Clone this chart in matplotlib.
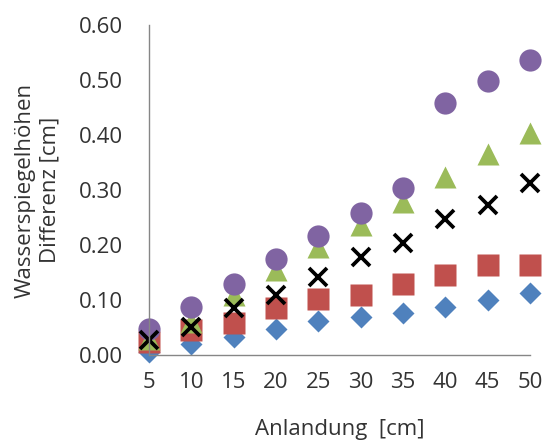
import numpy as np
import matplotlib.pyplot as plt

plt.rcParams['font.family'] = ['Open Sans', 'DejaVu Sans']

anlandung = [5, 10, 15, 20, 25, 30, 35, 40, 45, 50]
raute = [0.005, 0.020, 0.033, 0.048, 0.061, 0.070, 0.077, 0.088, 0.100, 0.112]
quadrat = [0.024, 0.045, 0.058, 0.085, 0.101, 0.109, 0.130, 0.145, 0.164, 0.164]
dreieck = [0.030, 0.060, 0.109, 0.155, 0.197, 0.236, 0.279, 0.324, 0.365, 0.404]
kreis = [0.047, 0.087, 0.130, 0.174, 0.216, 0.258, 0.304, 0.459, 0.499, 0.536]
kreuz = [0.027, 0.051, 0.085, 0.109, 0.142, 0.179, 0.204, 0.248, 0.273, 0.312]

y_ticks = [0.0, 0.1, 0.2, 0.3, 0.4, 0.5, 0.6]

fig = plt.figure(figsize=(5.45, 4.43), dpi=100)
ax = fig.add_axes([0.2734, 0.1986, 0.6991, 0.745])

ax.plot(anlandung, raute, 'D', color='#4F81BD', markersize=11, mec='none', clip_on=False)
ax.plot(anlandung, quadrat, 's', color='#C0504D', markersize=15.5, mec='none', clip_on=False)
ax.plot(anlandung, dreieck, '^', color='#9BBB59', markersize=16, mec='none', clip_on=False)
ax.plot(anlandung, kreis, 'o', color='#8064A2', markersize=16, mec='none', clip_on=False)
ax.plot(anlandung, kreuz, 'x', color='black', markersize=13, mew=2.7, clip_on=False)

ax.set_xlim(5, 50)
ax.set_ylim(0, 0.6)
ax.set_xticks(anlandung)
ax.set_yticks(y_ticks)
ax.set_yticklabels(['%.2f' % v for v in y_ticks])
ax.tick_params(length=0, labelsize=16, colors='#333333')
ax.tick_params(axis='y', pad=19)
ax.tick_params(axis='x', pad=12)

for s in ['top', 'right']:
    ax.spines[s].set_visible(False)
for s in ['left', 'bottom']:
    ax.spines[s].set_color('#868686')
    ax.spines[s].set_linewidth(1)

ax.set_xlabel('Anlandung  [cm]', fontsize=16, color='#333333')
ax.set_ylabel('Wasserspiegelhöhen\nDifferenz [cm]', fontsize=16, color='#333333', linespacing=1.25)
ax.xaxis.set_label_coords(0.5, -0.195)
ax.yaxis.set_label_coords(-0.233, 0.5)

fig.savefig('out.png', dpi=100)
